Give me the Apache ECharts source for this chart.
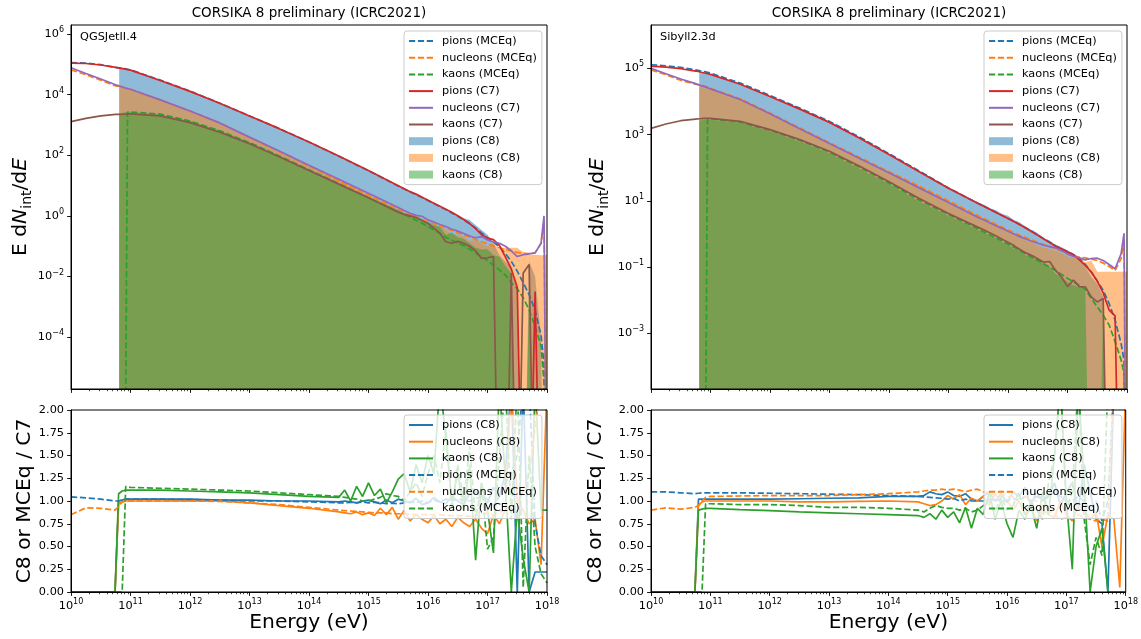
<!DOCTYPE html>
<html>
<head>
<meta charset="utf-8">
<script src="https://cdn.jsdelivr.net/npm/echarts@6/dist/echarts.min.js"></script>
<style>
html,body{margin:0;padding:0;background:#fff;}
#chart{width:1141px;height:639px;}
</style>
</head>
<body>
<div id="chart"></div>
<script>
// All spectrum values are log10(E dN/dE); energies are log10(E / eV).
const Z = -12;   // empty bin (zero entries) - lies below the plotted range
const N = null;  // no C8 bin (below the simulation threshold)

// ---------- top panels: energy grid ----------
const topLog10E = [10, 10.25, 10.5, 10.75, 10.81, 10.9, 10.95, 11, 11.5, 12, 12.5, 13, 13.5, 14, 14.5, 15,
  15.5, 15.6, 15.7, 15.8, 15.9, 16, 16.1, 16.2, 16.3, 16.4, 16.5, 16.6, 16.7, 16.8, 16.9,
  17, 17.1, 17.2, 17.3, 17.4, 17.5, 17.6, 17.7, 17.8, 17.9, 17.95, 18];

// ---------- QGSJetII.4 (left) ----------
const qgsPionMCEq = [5.06, 5.045, 4.99, 4.90, 4.885, 4.86, 4.84, 4.82, 4.48, 4.12, 3.72, 3.30, 2.88, 2.44, 1.97, 1.49,
  0.99, 0.89, 0.80, 0.70, 0.61, 0.51, 0.41, 0.31, 0.21, 0.10, -0.01, -0.13, -0.26, -0.40, -0.56,
  -0.72, -0.86, -1.02, -1.24, -1.50, -1.82, -2.20, -2.60, -3.10, -3.95, -4.90, Z];
const qgsNucMCEq = [4.82, 4.66, 4.48, 4.29, 4.27, 4.23, 4.20, 4.18, 3.83, 3.46, 3.07, 2.59, 2.12, 1.64, 1.16, 0.69,
  0.22, 0.13, 0.04, -0.04, -0.11, -0.19, -0.26, -0.33, -0.41, -0.48, -0.56, -0.63, -0.70, -0.78, -0.85,
  -0.92, -0.99, -1.05, -1.10, -1.16, -1.20, -1.23, -1.24, -1.22, -0.90, -0.15, Z];
const qgsKaonMCEq = [Z, Z, Z, Z, Z, Z, 3.43, 3.43, 3.36, 3.13, 2.81, 2.42, 1.98, 1.52, 1.07, 0.60,
  0.14, 0.05, -0.04, -0.14, -0.24, -0.35, -0.46, -0.58, -0.70, -0.80, -0.90, -0.98, -1.10, -1.22, -1.35,
  -1.47, -1.63, -1.78, -1.95, -2.20, -2.40, -2.70, -3.10, -3.65, -4.30, -5.50, Z];
const qgsPionC7 = [5.04, 5.03, 4.98, 4.90, 4.88, 4.85, 4.83, 4.81, 4.47, 4.11, 3.72, 3.30, 2.88, 2.44, 1.98, 1.50,
  1.00, 0.90, 0.80, 0.72, 0.62, 0.52, 0.42, 0.32, 0.22, 0.12, 0.01, -0.12, -0.25, -0.42, -0.62,
  -0.73, -0.78, -0.97, -1.35, -1.75, -2.35, Z, Z, -2.49, Z, Z, Z];
const qgsNucC7 = [4.89, 4.70, 4.52, 4.33, 4.29, 4.23, 4.20, 4.18, 3.83, 3.46, 3.07, 2.60, 2.14, 1.67, 1.21, 0.75,
  0.28, 0.18, 0.09, 0.02, -0.01, -0.13, -0.20, -0.28, -0.35, -0.44, -0.50, -0.58, -0.66, -0.72, -0.68,
  -0.79, -0.85, -0.90, -1.00, -1.15, -1.34, -1.28, -1.25, -1.22, -0.90, 0.00, Z];
const qgsKaonC7 = [3.11, 3.22, 3.30, 3.35, 3.35, 3.36, 3.37, 3.37, 3.30, 3.08, 2.76, 2.38, 1.95, 1.50, 1.05, 0.60,
  0.12, 0.05, 0.00, -0.05, -0.15, -0.25, -0.40, -0.57, -0.85, -0.90, -0.84, -0.90, -1.00, -1.15, -1.40,
  -1.38, -1.34, Z, Z, -1.88, Z, -1.88, -1.60, Z, Z, Z, Z];
const qgsPionC8 = [N, N, N, N, 4.88, 4.86, 4.84, 4.82, 4.48, 4.12, 3.72, 3.30, 2.88, 2.44, 1.98, 1.49,
  0.98, 0.90, 0.80, 0.70, 0.62, 0.50, 0.42, 0.30, 0.20, 0.12, 0.02, -0.08, -0.13, -0.30, -0.46,
  -0.62, -0.90, -1.30, -1.50, -1.70, -2.30, Z, -1.50, -2.00, -4.00, Z, Z];
const qgsNucC8 = [N, N, N, N, 4.27, 4.23, 4.20, 4.18, 3.83, 3.46, 3.07, 2.59, 2.12, 1.63, 1.15, 0.68,
  0.22, 0.10, 0.02, -0.08, -0.12, -0.25, -0.30, -0.38, -0.45, -0.60, -0.62, -0.68, -0.82, -0.80, -0.90,
  -1.00, -0.90, -1.10, -1.05, -1.05, -1.05, -1.20, -1.28, -1.28, -1.30, -1.30, -1.30];
const qgsKaonC8 = [N, N, N, N, 3.38, 3.41, 3.42, 3.42, 3.35, 3.13, 2.81, 2.42, 1.98, 1.52, 1.06, 0.62,
  0.20, 0.10, 0.05, 0.00, -0.10, -0.18, -0.30, -0.35, -0.62, -0.55, -0.70, -0.75, -0.90, -1.05, -1.10,
  -1.10, -1.30, -1.35, -1.65, -1.90, Z, Z, -2.40, Z, Z, Z, Z];

// ---------- Sibyll2.3d (right) ----------
const sibPionMCEq = [5.11, 5.08, 5.03, 4.955, 4.935, 4.90, 4.88, 4.86, 4.555, 4.185, 3.80, 3.40, 2.93, 2.425, 1.91, 1.39,
  0.92, 0.83, 0.74, 0.65, 0.56, 0.47, 0.38, 0.28, 0.18, 0.08, -0.03, -0.14, -0.25, -0.36, -0.45,
  -0.53, -0.62, -0.75, -0.92, -1.15, -1.42, -1.70, -2.10, -2.60, -3.30, -3.80, Z];
const sibNucMCEq = [4.95, 4.81, 4.64, 4.52, 4.50, 4.47, 4.44, 4.40, 4.08, 3.655, 3.205, 2.755, 2.32, 1.88, 1.45, 1.00,
  0.55, 0.46, 0.38, 0.29, 0.21, 0.12, 0.04, -0.04, -0.11, -0.18, -0.25, -0.32, -0.38, -0.44, -0.52,
  -0.60, -0.66, -0.70, -0.72, -0.76, -0.80, -0.88, -0.98, -1.10, -0.75, -0.20, Z];
const sibKaonMCEq = [Z, Z, Z, Z, Z, Z, 3.47, 3.48, 3.38, 3.13, 2.83, 2.47, 2.02, 1.54, 1.03, 0.59,
  0.15, 0.06, -0.03, -0.12, -0.21, -0.30, -0.40, -0.50, -0.60, -0.70, -0.80, -0.90, -1.00, -1.10, -1.22,
  -1.34, -1.45, -1.55, -1.67, -1.95, -2.20, -2.45, -2.75, -3.25, -3.80, -4.20, Z];
const sibPionC7 = [5.07, 5.04, 4.99, 4.92, 4.90, 4.86, 4.84, 4.82, 4.52, 4.15, 3.77, 3.37, 2.90, 2.40, 1.89, 1.38,
  0.92, 0.83, 0.74, 0.65, 0.56, 0.47, 0.38, 0.28, 0.18, 0.07, -0.04, -0.15, -0.26, -0.37, -0.45,
  -0.54, -0.63, -0.78, -0.95, -1.15, -1.42, -1.78, -2.30, -2.47, Z, Z, Z];
const sibNucC7 = [5.00, 4.84, 4.68, 4.54, 4.50, 4.45, 4.42, 4.38, 4.06, 3.63, 3.18, 2.73, 2.29, 1.85, 1.40, 0.95,
  0.50, 0.42, 0.33, 0.25, 0.17, 0.08, 0.00, -0.08, -0.15, -0.22, -0.28, -0.34, -0.38, -0.42, -0.50,
  -0.60, -0.68, -0.72, -0.78, -0.74, -0.73, -0.80, -0.92, -1.05, -0.60, 0.02, Z];
const sibKaonC7 = [3.19, 3.32, 3.42, 3.47, 3.48, 3.49, 3.49, 3.49, 3.40, 3.15, 2.85, 2.50, 2.05, 1.58, 1.08, 0.62,
  0.20, 0.12, 0.03, -0.06, -0.16, -0.25, -0.35, -0.47, -0.57, -0.65, -0.75, -0.85, -0.83, -1.10, -1.30,
  -1.59, -1.39, -1.59, -1.60, -1.90, -2.05, -1.95, Z, Z, Z, Z, Z];
const sibPionC8 = [N, N, N, N, 4.91, 4.87, 4.85, 4.83, 4.53, 4.16, 3.78, 3.38, 2.92, 2.42, 1.91, 1.41,
  0.95, 0.88, 0.78, 0.72, 0.60, 0.55, 0.42, 0.35, 0.22, 0.12, 0.02, -0.12, -0.20, -0.32, -0.40,
  -0.50, -0.60, -0.72, -1.00, -1.30, -1.50, -1.90, Z, Z, Z, Z, Z];
const sibNucC8 = [N, N, N, N, 4.48, 4.44, 4.41, 4.38, 4.06, 3.63, 3.18, 2.73, 2.29, 1.85, 1.40, 0.96,
  0.50, 0.45, 0.32, 0.28, 0.15, 0.10, -0.02, -0.05, -0.20, -0.25, -0.35, -0.40, -0.45, -0.50, -0.58,
  -0.68, -0.72, -0.70, -0.85, -0.80, -1.14, -1.14, -1.14, -1.14, -1.14, -1.14, -1.14];
const sibKaonC8 = [N, N, N, N, 3.43, 3.45, 3.45, 3.45, 3.36, 3.10, 2.79, 2.44, 1.98, 1.51, 0.99, 0.55,
  0.12, 0.05, -0.06, -0.12, -0.25, -0.30, -0.45, -0.50, -0.65, -0.70, -0.80, -0.90, -1.00, -1.20, -1.30,
  -1.45, -1.55, -1.60, -1.70, Z, Z, -1.90, Z, Z, Z, Z, Z];

// ---------- ratio panels: energy grid ----------
const ratioLog10E = [10, 10.25, 10.5, 10.74, 10.8, 10.86, 10.92, 11, 11.5, 12, 12.5, 13, 13.5, 14, 14.5,
  14.6, 14.7, 14.8, 14.9, 15.0, 15.1, 15.2, 15.3, 15.4, 15.5, 15.6, 15.7, 15.8, 15.9, 16.0,
  16.1, 16.2, 16.3, 16.4, 16.5, 16.6, 16.7, 16.8, 16.9, 17.0, 17.1, 17.2, 17.3, 17.4, 17.5,
  17.6, 17.7, 17.8, 17.9, 18.0];

const qgsPionC8Ratio = [0, 0, 0, 0, 1.00, 1.01, 1.02, 1.02, 1.02, 1.02, 1.01, 1.01, 1.00, 1.00, 0.99,
  1.00, 0.99, 0.98, 1.00, 1.01, 0.99, 0.97, 1.01, 0.98, 1.02, 1.00, 0.98, 1.03, 0.96, 0.98,
  1.04, 0.99, 0.97, 1.05, 1.00, 0.96, 1.08, 1.10, 1.05, 0.98, 1.15, 1.05, 1.30, 2.30, 0.00,
  2.30, 0.00, 0.22, 0.22, 0.22];
const qgsNucC8Ratio = [0, 0, 0, 0, 0.97, 0.99, 1.00, 1.00, 1.00, 1.00, 1.00, 0.98, 0.95, 0.92, 0.88,
  0.87, 0.86, 0.88, 0.85, 0.87, 0.84, 0.92, 0.85, 0.93, 0.80, 0.90, 0.78, 0.85, 0.80, 0.76,
  0.84, 0.75, 0.80, 0.72, 0.82, 0.76, 0.72, 0.80, 0.70, 0.64, 0.85, 0.75, 0.90, 2.30, 1.00,
  0.90, 0.75, 0.80, 0.30, 2.30];
const qgsKaonC8Ratio = [0, 0, 0, 0, 1.08, 1.11, 1.12, 1.12, 1.12, 1.11, 1.10, 1.09, 1.07, 1.05, 1.04,
  1.12, 1.00, 1.16, 1.05, 1.20, 1.06, 1.13, 0.98, 1.10, 1.24, 1.30, 1.10, 1.40, 1.20, 1.50,
  1.30, 2.30, 1.70, 1.00, 1.30, 0.90, 1.40, 0.35, 1.20, 0.90, 0.43, 2.30, 1.20, 0.00, 0.90,
  0.37, 0.00, 2.30, 0.90, 0.90];
const qgsPionMCEqRatio = [1.045, 1.035, 1.02, 1.00, 1.00, 1.01, 1.02, 1.02, 1.02, 1.015, 1.01, 1.00, 1.00, 0.99, 0.98,
  0.98, 0.985, 0.98, 0.99, 0.98, 0.985, 0.98, 0.97, 0.975, 0.97, 0.98, 0.99, 0.98, 1.00, 0.98,
  1.01, 0.99, 1.02, 1.00, 1.02, 1.01, 1.00, 1.02, 1.05, 1.02, 0.95, 1.05, 1.20, 1.30, 1.50,
  2.30, 2.30, 0.75, 0.40, 0.30];
const qgsNucMCEqRatio = [0.85, 0.925, 0.92, 0.90, 0.94, 0.99, 1.00, 1.00, 1.00, 1.00, 0.995, 0.98, 0.96, 0.93, 0.90,
  0.895, 0.89, 0.885, 0.88, 0.875, 0.87, 0.87, 0.87, 0.86, 0.86, 0.86, 0.855, 0.85, 0.85, 0.85,
  0.85, 0.85, 0.84, 0.84, 0.84, 0.84, 0.83, 0.84, 0.85, 0.87, 0.85, 0.88, 0.90, 0.95, 1.00,
  1.10, 1.30, 1.80, 2.30, 2.30];
const qgsKaonMCEqRatio = [0, 0, 0, 0, 0, 0, 1.16, 1.15, 1.14, 1.13, 1.12, 1.11, 1.09, 1.07, 1.05,
  1.04, 1.03, 1.02, 1.00, 1.00, 1.02, 1.04, 1.08, 1.06, 1.05, 1.00, 1.10, 1.20, 1.05, 1.30,
  1.50, 1.20, 1.80, 0.90, 1.40, 1.00, 1.60, 0.80, 1.20, 0.47, 0.60, 1.50, 2.30, 0.80, 2.30,
  0.05, 1.50, 0.50, 0.20, 0.10];

const sibPionC8Ratio = [0, 0, 0, 0, 1.02, 1.02, 1.02, 1.02, 1.02, 1.02, 1.025, 1.03, 1.035, 1.05, 1.05,
  1.06, 1.10, 1.08, 1.07, 1.10, 1.06, 1.05, 1.08, 1.02, 1.00, 1.05, 1.10, 1.00, 1.08, 0.98,
  1.10, 1.05, 1.15, 0.95, 1.10, 1.00, 1.05, 1.20, 0.95, 1.10, 1.20, 0.90, 1.40, 1.10, 0.80,
  0.75, 0.00, 2.30, 2.30, 2.30];
const sibNucC8Ratio = [0, 0, 0, 0, 0.95, 0.99, 1.00, 1.00, 1.00, 1.00, 0.99, 0.99, 0.995, 1.00, 0.99,
  0.97, 0.95, 0.96, 1.00, 1.06, 1.02, 1.07, 0.96, 1.03, 1.00, 1.05, 0.95, 1.08, 0.98, 1.02,
  0.90, 1.00, 0.85, 0.95, 0.78, 0.90, 0.85, 0.82, 1.00, 0.85, 0.78, 0.95, 0.90, 0.80, 0.88,
  0.50, 0.85, 0.80, 0.05, 2.30];
const sibKaonC8Ratio = [0, 0, 0, 0, 0.90, 0.91, 0.92, 0.92, 0.905, 0.895, 0.88, 0.87, 0.86, 0.85, 0.84,
  0.82, 0.86, 0.80, 0.90, 0.82, 0.88, 0.76, 0.93, 0.70, 0.92, 0.85, 1.10, 0.80, 1.00, 0.75,
  0.60, 0.90, 0.80, 0.95, 0.70, 1.10, 0.85, 1.50, 2.30, 1.00, 0.25, 2.30, 1.20, 0.00, 0.50,
  0.70, 0.00, 0.00, 0.00, 0.00];
const sibPionMCEqRatio = [1.10, 1.10, 1.09, 1.08, 1.085, 1.09, 1.09, 1.09, 1.09, 1.085, 1.08, 1.075, 1.07, 1.06, 1.05,
  1.045, 1.04, 1.035, 1.03, 1.02, 1.03, 1.00, 1.02, 1.00, 1.00, 1.00, 1.02, 1.00, 1.02, 1.00,
  1.03, 1.00, 1.05, 1.00, 1.05, 1.02, 1.05, 1.10, 1.05, 1.00, 1.00, 1.05, 1.00, 0.90, 1.00,
  0.78, 1.00, 2.30, 2.30, 2.30];
const sibNucMCEqRatio = [0.90, 0.925, 0.91, 0.93, 0.95, 1.00, 1.04, 1.05, 1.055, 1.06, 1.06, 1.06, 1.07, 1.08, 1.10,
  1.11, 1.12, 1.12, 1.13, 1.12, 1.13, 1.12, 1.10, 1.12, 1.13, 1.10, 1.10, 1.06, 1.08, 1.05,
  1.05, 1.02, 1.05, 1.00, 1.00, 0.95, 0.90, 0.85, 0.80, 0.82, 0.80, 0.85, 0.82, 0.80, 0.78,
  0.80, 0.78, 2.30, 2.30, 2.30];
const sibKaonMCEqRatio = [0, 0, 0, 0, 0, 0, 0.97, 0.97, 0.96, 0.96, 0.95, 0.93, 0.93, 0.92, 0.90,
  0.88, 0.92, 0.95, 0.93, 0.92, 0.92, 0.90, 0.92, 0.88, 0.90, 0.95, 1.00, 0.88, 1.05, 0.90,
  0.95, 1.10, 0.85, 1.00, 0.90, 0.80, 1.20, 1.50, 2.30, 0.90, 1.10, 2.30, 0.80, 0.30, 0.60,
  0.40, 2.30, 2.30, 2.30, 2.30];

// ---------- tick labels / texts ----------
const xTickExponents = [10, 11, 12, 13, 14, 15, 16, 17, 18];
const yTickExponentsLeft = [-4, -2, 0, 2, 4, 6];
const yTickExponentsRight = [-3, -1, 1, 3, 5];
const panelTitle = 'CORSIKA 8 preliminary (ICRC2021)';
const modelNames = ['QGSJetII.4', 'Sibyll2.3d'];

// ================= build the chart =================
const FONT = 'DejaVu Sans';
const COL = {blue:'#1f77b4', orange:'#ff7f0e', green:'#2ca02c', red:'#d62728', purple:'#9467bd', brown:'#8c564b'};
const DASH = [6.2, 2.7];
const LW = 1.7;

function pairs(xs, ys) {
  const out = [];
  xs.forEach((x, i) => { if (ys[i] !== null) out.push([x, ys[i]]); });
  return out;
}
function supText(v) {
  return '{b|10}{s|' + String(Math.round(v)).replace('-', '\u2212') + '}';
}
const supRich = {
  b: {fontSize: 11.3, fontFamily: FONT, color: '#000', lineHeight: 16},
  s: {fontSize: 8, fontFamily: FONT, color: '#000', verticalAlign: 'top', lineHeight: 9}
};

const minorTicks = [];
for (let d = 10; d < 18; d++) for (let k = 2; k <= 9; k++) minorTicks.push(d + Math.log10(k));

const gridBoxes = [
  {left: 71, top: 25, width: 476, height: 364},
  {left: 651, top: 25, width: 476, height: 364},
  {left: 71, top: 410, width: 476, height: 182},
  {left: 651, top: 410, width: 476, height: 182}
];
const grid = gridBoxes.map(g => Object.assign({show: true, borderColor: '#000', borderWidth: 1,
  backgroundColor: 'transparent', z: 3}, g));

const axisLineStyle = {show: true, onZero: false, lineStyle: {color: '#000', width: 1}};
const xAxis = [];
for (let i = 0; i < 4; i++) {
  const bottom = i >= 2;
  xAxis.push({
    type: 'value', gridIndex: i, min: 10, max: 18, interval: 1, position: 'bottom', z: 4,
    axisLine: axisLineStyle,
    axisTick: {show: true, length: 3.9, lineStyle: {color: '#000', width: 0.9}},
    axisLabel: bottom ? {show: true, margin: 6, formatter: supText, rich: supRich} : {show: false},
    splitLine: {show: false},
    name: bottom ? 'Energy (eV)' : '', nameLocation: 'middle', nameGap: 17,
    nameTextStyle: {fontSize: 20.25, fontFamily: FONT, color: '#000'}
  });
}
for (let i = 0; i < 4; i++) {
  xAxis.push({
    type: 'value', gridIndex: i, min: 10, max: 18, position: 'bottom', z: 4,
    axisLine: {show: false, onZero: false},
    axisTick: {show: true, length: 2.25, customValues: minorTicks, lineStyle: {color: '#000', width: 0.7}},
    axisLabel: {show: false}, splitLine: {show: false}
  });
}

const yNameTop = 'E d{it|N}{sub|int}/d{it|E}';
const yNameRich = {
  it: {fontSize: 20.25, fontFamily: FONT, fontStyle: 'italic', color: '#000', lineHeight: 26},
  sub: {fontSize: 14, fontFamily: FONT, color: '#000', verticalAlign: 'bottom', lineHeight: 18}
};
function logYAxis(i, min, max, ticks, gap) {
  return {
    type: 'value', gridIndex: i, min: min, max: max, z: 4,
    axisLine: axisLineStyle,
    axisTick: {show: true, length: 3.9, customValues: ticks, lineStyle: {color: '#000', width: 0.9}},
    axisLabel: {show: true, margin: 7, customValues: ticks, formatter: supText, rich: supRich},
    splitLine: {show: false},
    name: yNameTop, nameLocation: 'middle', nameGap: gap, nameRotate: 90,
    nameTextStyle: {fontSize: 20.25, fontFamily: FONT, color: '#000', lineHeight: 26, rich: yNameRich}
  };
}
function ratioYAxis(i, gap) {
  return {
    type: 'value', gridIndex: i, min: 0, max: 2, interval: 0.25, z: 4,
    axisLine: axisLineStyle,
    axisTick: {show: true, length: 3.9, lineStyle: {color: '#000', width: 0.9}},
    axisLabel: {show: true, margin: 7, formatter: v => v.toFixed(2), fontSize: 11.3, fontFamily: FONT, color: '#000'},
    splitLine: {show: false},
    name: 'C8 or MCEq / C7', nameLocation: 'middle', nameGap: gap, nameRotate: 90,
    nameTextStyle: {fontSize: 20.25, fontFamily: FONT, color: '#000'}
  };
}
const yAxis = [
  logYAxis(0, -5.71, 6.30, yTickExponentsLeft, 30),
  logYAxis(1, -4.68, 6.31, yTickExponentsRight, 40),
  ratioYAxis(2, 35),
  ratioYAxis(3, 45)
];

function lineSeries(name, g, xs, ys, color, dashed) {
  return {
    name: name, type: 'line', xAxisIndex: g, yAxisIndex: g, data: pairs(xs, ys),
    symbol: 'none', showSymbol: false, clip: true, z: 2,
    lineStyle: {color: color, width: LW, type: dashed ? DASH : 'solid'},
    itemStyle: {color: color}, emphasis: {disabled: true}
  };
}
function histSeries(name, g, xs, ys, color) {
  return {
    name: name, type: 'line', xAxisIndex: g, yAxisIndex: g, data: pairs(xs, ys),
    symbol: 'none', showSymbol: false, clip: true, z: 2,
    lineStyle: {width: 0, opacity: 0, color: color},
    areaStyle: {color: color, opacity: 0.5, origin: 'start'},
    itemStyle: {color: color}, emphasis: {disabled: true}
  };
}

const R = '|ratio';
const series = [];
const topSets = [
  [qgsPionC8, qgsNucC8, qgsKaonC8, qgsPionMCEq, qgsNucMCEq, qgsKaonMCEq, qgsPionC7, qgsNucC7, qgsKaonC7],
  [sibPionC8, sibNucC8, sibKaonC8, sibPionMCEq, sibNucMCEq, sibKaonMCEq, sibPionC7, sibNucC7, sibKaonC7]
];
topSets.forEach((s, g) => {
  series.push(histSeries('pions (C8)', g, topLog10E, s[0], COL.blue));
  series.push(histSeries('nucleons (C8)', g, topLog10E, s[1], COL.orange));
  series.push(histSeries('kaons (C8)', g, topLog10E, s[2], COL.green));
  series.push(lineSeries('pions (MCEq)', g, topLog10E, s[3], COL.blue, true));
  series.push(lineSeries('nucleons (MCEq)', g, topLog10E, s[4], COL.orange, true));
  series.push(lineSeries('kaons (MCEq)', g, topLog10E, s[5], COL.green, true));
  series.push(lineSeries('pions (C7)', g, topLog10E, s[6], COL.red, false));
  series.push(lineSeries('nucleons (C7)', g, topLog10E, s[7], COL.purple, false));
  series.push(lineSeries('kaons (C7)', g, topLog10E, s[8], COL.brown, false));
});
const ratioSets = [
  [qgsPionC8Ratio, qgsNucC8Ratio, qgsKaonC8Ratio, qgsPionMCEqRatio, qgsNucMCEqRatio, qgsKaonMCEqRatio],
  [sibPionC8Ratio, sibNucC8Ratio, sibKaonC8Ratio, sibPionMCEqRatio, sibNucMCEqRatio, sibKaonMCEqRatio]
];
ratioSets.forEach((s, k) => {
  const g = k + 2;
  series.push(lineSeries('pions (C8)' + R, g, ratioLog10E, s[0], COL.blue, false));
  series.push(lineSeries('nucleons (C8)' + R, g, ratioLog10E, s[1], COL.orange, false));
  series.push(lineSeries('kaons (C8)' + R, g, ratioLog10E, s[2], COL.green, false));
  series.push(lineSeries('pions (MCEq)' + R, g, ratioLog10E, s[3], COL.blue, true));
  series.push(lineSeries('nucleons (MCEq)' + R, g, ratioLog10E, s[4], COL.orange, true));
  series.push(lineSeries('kaons (MCEq)' + R, g, ratioLog10E, s[5], COL.green, true));
});

const lineItem = n => ({name: n});
const rectItem = (n, rgba) => ({name: n, icon: 'rect', itemStyle: {color: rgba, opacity: 1, borderWidth: 0}});
const topLegendData = [
  lineItem('pions (MCEq)'), lineItem('nucleons (MCEq)'), lineItem('kaons (MCEq)'),
  lineItem('pions (C7)'), lineItem('nucleons (C7)'), lineItem('kaons (C7)'),
  rectItem('pions (C8)', 'rgba(31,119,180,0.5)'),
  rectItem('nucleons (C8)', 'rgba(255,127,14,0.5)'),
  rectItem('kaons (C8)', 'rgba(44,160,44,0.5)')
];
const bottomLegendData = ['pions (C8)', 'nucleons (C8)', 'kaons (C8)', 'pions (MCEq)', 'nucleons (MCEq)', 'kaons (MCEq)']
  .map(n => lineItem(n + R));
function legend(left, top, data) {
  return {
    orient: 'vertical', left: left, top: top, data: data, selectedMode: false,
    itemWidth: 24, itemHeight: 8, itemGap: 4.7, padding: [4, 5, 4, 4],
    backgroundColor: 'rgba(255,255,255,0.8)', borderColor: '#cccccc', borderWidth: 1, borderRadius: 3,
    itemStyle: {opacity: 0},
    textStyle: {fontSize: 11.3, fontFamily: FONT, color: '#000', lineHeight: 12, padding: [0, 0, 0, 4]},
    formatter: n => n.split('|')[0], z: 6
  };
}

const graphic = [
  {type: 'text', x: 309, y: 13.5, z: 10, style: {text: panelTitle, font: '13.5px "DejaVu Sans"', fill: '#000', align: 'center', verticalAlign: 'middle', textAlign: 'center', textVerticalAlign: 'middle'}},
  {type: 'text', x: 889, y: 13.5, z: 10, style: {text: panelTitle, font: '13.5px "DejaVu Sans"', fill: '#000', align: 'center', verticalAlign: 'middle', textAlign: 'center', textVerticalAlign: 'middle'}},
  {type: 'text', x: 80, y: 37.5, z: 10, style: {text: modelNames[0], font: '11.3px "DejaVu Sans"', fill: '#000', align: 'left', verticalAlign: 'middle', textAlign: 'left', textVerticalAlign: 'middle'}},
  {type: 'text', x: 660, y: 37.5, z: 10, style: {text: modelNames[1], font: '11.3px "DejaVu Sans"', fill: '#000', align: 'left', verticalAlign: 'middle', textAlign: 'left', textVerticalAlign: 'middle'}}
];

const chart = echarts.init(document.getElementById('chart'), null, {renderer: 'canvas'});
chart.setOption({
  animation: false,
  backgroundColor: '#fff',
  textStyle: {fontFamily: FONT},
  grid: grid,
  xAxis: xAxis,
  yAxis: yAxis,
  legend: [
    legend(404, 31, topLegendData),
    legend(984, 31, topLegendData),
    legend(404, 415, bottomLegendData),
    legend(984, 415, bottomLegendData)
  ],
  graphic: graphic,
  series: series
});
</script>
</body>
</html>
